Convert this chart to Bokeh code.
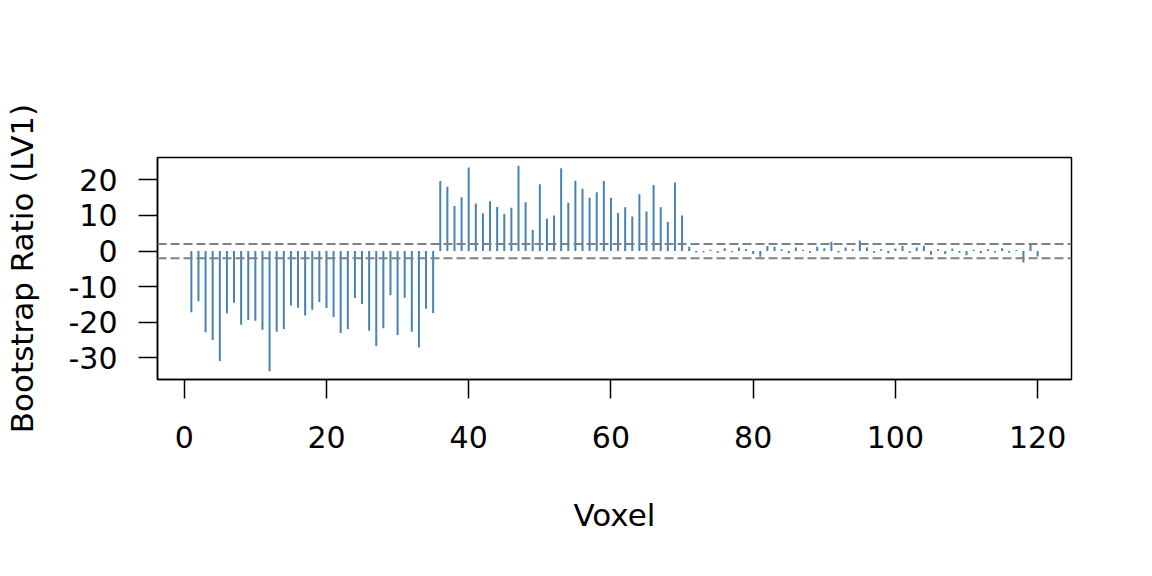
from bokeh.plotting import figure
from bokeh.models import Span, FixedTicker, Range1d, PrintfTickFormatter
from bokeh.embed import file_html
from bokeh.resources import INLINE

# bootstrap ratios for LV1, one per voxel
voxel = list(range(1, 121))
ratio = [
    -17.2, -14.1, -22.8, -25.0, -30.9, -17.5, -14.5, -20.7, -19.4, -19.6,
    -22.1, -33.8, -22.7, -21.9, -15.3, -15.9, -18.1, -16.5, -14.3, -16.0,
    -18.5, -23.0, -22.0, -13.2, -14.9, -22.4, -26.7, -21.7, -12.4, -23.6,
    -13.1, -22.7, -27.1, -16.2, -17.4,
    19.7, 18.1, 12.7, 15.1, 23.5, 13.4, 10.6, 14.0, 12.4, 10.4,
    12.2, 24.0, 13.7, 5.9, 18.8, 9.1, 10.0, 23.3, 13.6, 19.8,
    17.5, 15.0, 16.5, 19.7, 15.0, 10.7, 12.3, 9.7, 16.0, 11.1,
    18.6, 12.3, 8.2, 19.3, 10.0,
    1.2, -0.4, -0.3, 0.4, -0.5, 0.8, -0.3, 1.0, 0.6, -0.8,
    -1.6, 1.4, 1.2, 0.5, -0.6, 1.0, 0.3, -0.5, 1.2, 0.8,
    2.6, -0.4, 1.0, 0.5, 3.0, 1.0, -0.5, 0.5, -0.6, 0.7,
    1.4, -0.5, 1.0, 1.5, -1.0, 0.5, -0.8, 0.7, -0.5, -1.2,
    0.4, -0.6, 0.5, -0.4, 0.8, -0.5, 0.3, -3.2, 2.0, -1.5,
]
zeros = [0] * len(voxel)
cutoff = 2
x_ticks = [0, 20, 40, 60, 80, 100, 120]
y_ticks = [-30, -20, -10, 0, 10, 20]

FONT = "DejaVu Sans"

p = figure(width=1136, height=560, output_backend="svg", toolbar_location=None,
           x_range=Range1d(-3.76, 124.76), y_range=Range1d(-36.1, 26.3),
           x_axis_label="Voxel", y_axis_label="Bootstrap Ratio (LV1)",
           min_border_left=140, min_border_right=65,
           min_border_top=157, min_border_bottom=181)

p.segment(x0=voxel, y0=zeros, x1=voxel, y1=ratio,
          line_color="#4682B4", line_width=2)

for loc in (cutoff, -cutoff):
    p.add_layout(Span(location=loc, dimension="width", line_color="#808080",
                      line_width=2, line_dash="9 4"))

p.xgrid.visible = False
p.ygrid.visible = False
p.outline_line_color = "black"
p.outline_line_width = 1.5

p.xaxis.ticker = FixedTicker(ticks=x_ticks)
p.yaxis.ticker = FixedTicker(ticks=y_ticks)
# plain hyphen for negatives, like R
p.yaxis.formatter = PrintfTickFormatter(format="%d")

for ax in (p.xaxis, p.yaxis):
    ax.major_tick_out = 19
    ax.major_tick_in = 0
    ax.minor_tick_out = 0
    ax.minor_tick_in = 0
    ax.major_tick_line_width = 1.5
    ax.axis_line_width = 1.5
    ax.major_label_text_font = FONT
    ax.major_label_text_font_size = "30px"
    ax.major_label_text_color = "black"
    ax.axis_label_text_font = FONT
    ax.axis_label_text_font_size = "31px"
    ax.axis_label_text_font_style = "normal"
    ax.axis_label_text_color = "black"

p.xaxis.major_label_standoff = 27
p.xaxis.axis_label_standoff = 46
p.yaxis.major_label_standoff = 21
p.yaxis.axis_label_standoff = 26

open("out.html", "w").write(file_html(p, INLINE))
